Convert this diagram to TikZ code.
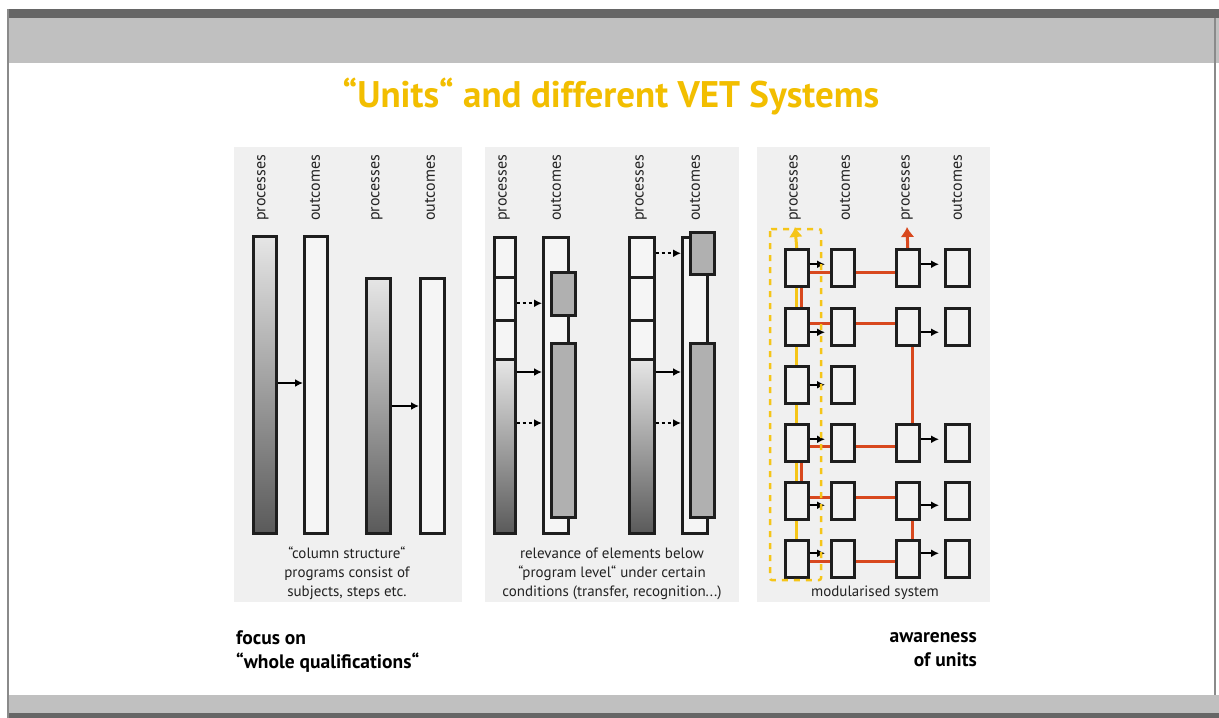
\documentclass[tikz,border=0pt]{standalone}
\usepackage{fontspec}
\setmainfont{PT Sans}
\usepackage{tikz}
\usetikzlibrary{calc,positioning,arrows.meta,backgrounds}

\definecolor{titleyellow}{HTML}{F2BE00}
\definecolor{panelgray}{HTML}{F0F0F0}
\definecolor{bandgray}{HTML}{C0C0C0}
\definecolor{banddark}{HTML}{666666}
\definecolor{edgegray}{HTML}{8A8A8A}
\definecolor{unitred}{HTML}{D8481E}
\definecolor{unityellow}{HTML}{F5C518}
\definecolor{unitgray}{HTML}{B0B0B0}
\definecolor{boxline}{HTML}{1E1E1E}
\definecolor{shadetop}{HTML}{E6E6E6}
\definecolor{shadebot}{HTML}{5A5A5A}
\definecolor{txtgray}{HTML}{222222}

\tikzset{
  bar/.style={draw=boxline, line width=2.5pt, inner sep=0pt, anchor=north west, minimum width=23pt},
  procbar/.style={bar, top color=shadetop, bottom color=shadebot},
  outbar/.style={bar, fill=white!96!black},
  segbox/.style={bar, minimum width=21pt, fill=white!96!black},
  unitbox/.style={bar, minimum width=24pt, fill=unitgray},
  unit/.style={bar, minimum height=37pt, fill=white!95!black},
  colname/.style={rotate=90, anchor=west, inner sep=0pt, text=txtgray, font=\fontsize{16}{16}\selectfont},
  note/.style={align=center, text=txtgray, font=\fontsize{15}{19}\selectfont},
  side/.style={inner sep=0pt, text=black, font=\fontsize{19.5}{24}\selectfont\bfseries},
  arr/.style={line width=2.2pt, -{Latex[length=8pt,width=8pt]}},
  dotarr/.style={arr, dash pattern=on 3pt off 3pt},
  redwire/.style={unitred, line width=3pt},
  yellowwire/.style={unityellow, line width=3pt},
}

\begin{document}
\begin{tikzpicture}[x=1pt,y=-1pt]
    \useasboundingbox (0,0) rectangle (1219,718);
    \begin{pgfonlayer}{background}
    \fill[white] (0,0) rectangle (1219,718);
    \fill[banddark] (7,9) rectangle (1219,18);
    \fill[bandgray] (7,18) rectangle (1219,63);
    \fill[bandgray] (7,695) rectangle (1219,713);
    \fill[banddark] (7,713) rectangle (1219,718);
    \fill[edgegray] (7,9) rectangle (9,718);
    \fill[edgegray] (1214,18) rectangle (1216,695);

    % the three panels
    \fill[panelgray] (234,147) rectangle (462,602);
    \fill[panelgray] (485,147) rectangle (739,602);
    \fill[panelgray] (757,147) rectangle (990,602);
    \end{pgfonlayer}

    \node[font=\fontsize{37}{37}\selectfont\bfseries, text=titleyellow] (title) at (611,97) {“Units“ and different VET Systems};

    % column structure
    \node[colname] at (263,221) {processes};
    \node[colname] at (315,221) {outcomes};
    \node[colname] at (377,221) {processes};
    \node[colname] at (430,221) {outcomes};

    \node[procbar, minimum height=297pt] (q1) at (252,235) {};
    \node[outbar, minimum height=297pt] (q2) at (303,235) {};
    \node[procbar, minimum width=24pt, minimum height=255pt] (q3) at (365,277) {};
    \node[outbar, minimum width=24pt, minimum height=255pt] (q4) at (419,277) {};
    \draw[arr] ([yshift=-148pt]q1.north east) -- ([yshift=-148pt]q1.north east -| q2.west);
    \draw[arr] ([yshift=-129pt]q3.north east) -- ([yshift=-129pt]q3.north east -| q4.west);

    \node[note] (n1) at (347,573) {“column structure“\\programs consist of\\subjects, steps etc.};

    % elements below program level
    \node[colname] at (504,221) {processes};
    \node[colname] at (556,221) {outcomes};
    \node[colname] at (641,221) {processes};
    \node[colname] at (695,221) {outcomes};

    \node[segbox, minimum height=40pt] (pa1) at (493,236) {};
    \node[segbox, minimum height=43pt] (pa2) at (493,276) {};
    \node[segbox, minimum height=39pt] (pa3) at (493,319) {};
    \node[procbar, minimum width=21pt, minimum height=174pt] (pa4) at (493,358) {};
    \node[outbar, minimum width=25pt, minimum height=296pt] (oa) at (542,236) {};
    \node[unitbox, minimum height=43pt] (ga1) at (550,271) {};
    \node[unitbox, minimum height=174pt] (ga2) at (550,342) {};

    \node[segbox, minimum width=25pt, minimum height=40pt] (pb1) at (628,236) {};
    \node[segbox, minimum width=25pt, minimum height=43pt] (pb2) at (628,276) {};
    \node[segbox, minimum width=25pt, minimum height=39pt] (pb3) at (628,319) {};
    \node[procbar, minimum width=25pt, minimum height=174pt] (pb4) at (628,358) {};
    \node[outbar, minimum width=25pt, minimum height=296pt] (ob) at (681,236) {};
    \node[unitbox, minimum height=42pt] (gb1) at (689,231) {};
    \node[unitbox, minimum height=174pt] (gb2) at (689,342) {};

    \draw[dotarr] ([yshift=-4.5pt]pa2.east) -- ([yshift=-4.5pt]pa2.east -| oa.west);
    \draw[arr] ([yshift=-14pt]pa4.north east) -- ([yshift=-14pt]pa4.north east -| oa.west);
    \draw[dotarr] ([yshift=-65pt]pa4.north east) -- ([yshift=-65pt]pa4.north east -| oa.west);
    \draw[dotarr] ([yshift=4pt]pb1.east) -- ([yshift=4pt]pb1.east -| ob.west);
    \draw[arr] ([yshift=-14pt]pb4.north east) -- ([yshift=-14pt]pb4.north east -| ob.west);
    \draw[dotarr] ([yshift=-65pt]pb4.north east) -- ([yshift=-65pt]pb4.north east -| ob.west);

    \node[note] (n2) at (612,574) {relevance of elements below\\“program level“ under certain\\conditions (transfer, recognition...)};

    % modularised system
    \node[colname] at (795,221) {processes};
    \node[colname] at (845,221) {outcomes};
    \node[colname] at (907,221) {processes};
    \node[colname] at (957,221) {outcomes};

    \foreach \r/\t in {1/248,2/307,3/365,4/423,5/481,6/539}{
      \node[unit] (a\r) at (784,\t) {};
      \node[unit] (b\r) at (830,\t) {};
    }
    \foreach \r/\t in {1/248,2/307,4/423,5/481,6/539}{
      \node[unit] (c\r) at (895,\t) {};
      \node[unit, minimum width=24pt] (d\r) at (944,\t) {};
    }

    \begin{pgfonlayer}{background}
    \draw[yellowwire] (a6.center) -- (a1.center);
    \foreach \r/\e in {1/-4.5,2/3.5,4/-3.5,5/3.5,6/-2.5}{
      \draw[redwire] ([yshift=\e pt]a\r.east) -- ([yshift=\e pt]c\r.west);
    }
    \draw[redwire] ([xshift=5pt]a1.south) -- ([xshift=5pt]a2.north);
    \draw[redwire] ([xshift=5pt]a4.south) -- ([xshift=5pt]a5.north);
    \draw[redwire] ([xshift=5pt]c2.south) -- ([xshift=5pt]c4.north);
    \draw[redwire] ([xshift=5pt]c5.south) -- ([xshift=5pt]c6.north);
    \end{pgfonlayer}

    \coordinate (ytip) at (795,227);
    \coordinate (rtip) at (907,227);
    \draw[yellowwire, -{Latex[length=10pt,width=14pt]}] (a1.north) -- (ytip);
    \draw[redwire, -{Latex[length=10pt,width=14pt]}] (c1.north) -- (rtip);

    \foreach \r/\a in {1/3.5,2/-5.5,3/0,4/3.5,5/-4.5,6/5.5}{
      \draw[arr, shorten >=5pt] ([yshift=\a pt]a\r.east) -- ([yshift=\a pt]b\r.west);
    }
    \foreach \r/\a in {1/3.5,2/-5.5,4/3.5,5/-4.5,6/5.5}{
      \draw[arr, shorten >=5pt] ([yshift=\a pt]c\r.east) -- ([yshift=\a pt]d\r.west);
    }

    \draw[unityellow, line width=2.5pt, dash pattern=on 6pt off 6pt, rounded corners=2pt] (770,229) rectangle (821,580);

    \node[note] (n3) at (875,593) {modularised system};

    % bottom statements
    \node[side, align=left, anchor=north west] (focus) at (236,630) {focus on\\“whole qualifications“};
    \node[side, align=right, anchor=north east] (aware) at (977,632) {awareness\\of units};
  \end{tikzpicture}
\end{document}
